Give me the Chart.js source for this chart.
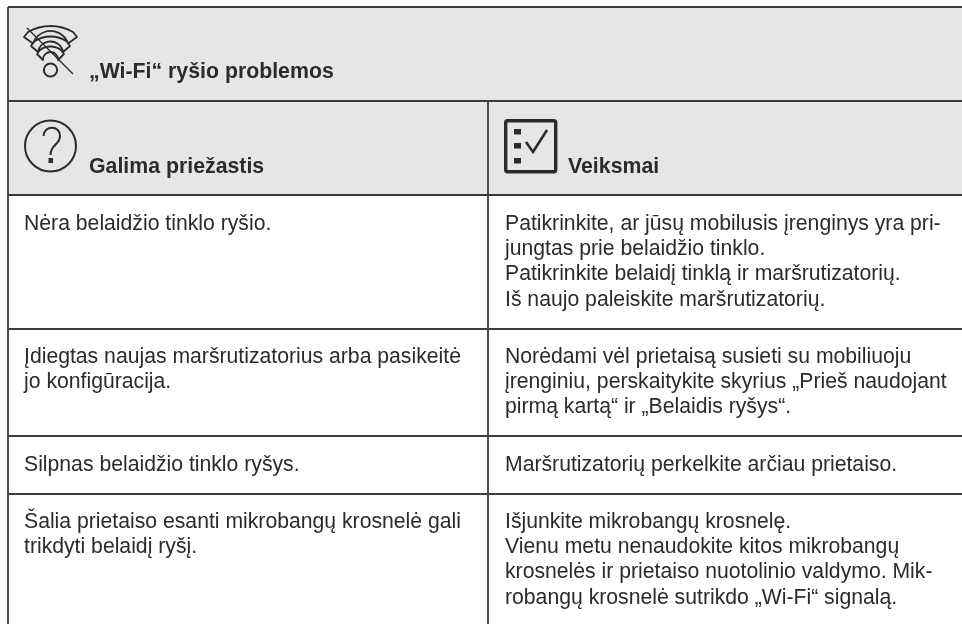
<!DOCTYPE html>
<html>
<head>
<meta charset="utf-8">
<title>Wi-Fi ryšio problemos</title>
<style>
  html, body { margin: 0; padding: 0; background: #fff; }
  #wrap { width: 962px; height: 624px; }
</style>
</head>
<body>
<div id="wrap"><canvas id="tableChart" width="962" height="624"></canvas></div>
<script src="https://cdn.jsdelivr.net/npm/chart.js@4"></script>
<script>
// table rules
const rowEdges = [7, 101, 195, 329, 436, 494];
const columnEdges = [8, 488];
const rightEdge = 962;
const bottomEdge = 624;

const titleText = "„Wi-Fi“ ryšio problemos";
const causeHeader = "Galima priežastis";
const actionHeader = "Veiksmai";

const causeLines = [
  ["Nėra belaidžio tinklo ryšio."],
  ["Įdiegtas naujas maršrutizatorius arba pasikeitė", "jo konfigūracija."],
  ["Silpnas belaidžio tinklo ryšys."],
  ["Šalia prietaiso esanti mikrobangų krosnelė gali", "trikdyti belaidį ryšį."]
];
const actionLines = [
  ["Patikrinkite, ar jūsų mobilusis įrenginys yra pri-", "jungtas prie belaidžio tinklo.", "Patikrinkite belaidį tinklą ir maršrutizatorių.", "Iš naujo paleiskite maršrutizatorių."],
  ["Norėdami vėl prietaisą susieti su mobiliuoju", "įrenginiu, perskaitykite skyrius „Prieš naudojant", "pirmą kartą“ ir „Belaidis ryšys“."],
  ["Maršrutizatorių perkelkite arčiau prietaiso."],
  ["Išjunkite mikrobangų krosnelę.", "Vienu metu nenaudokite kitos mikrobangų", "krosnelės ir prietaiso nuotolinio valdymo. Mik-", "robangų krosnelė sutrikdo „Wi-Fi“ signalą."]
];
// first baseline of every body row
const rowBaselines = [230, 363, 471, 528];
const lineStep = 25.2;

const ruleColor = "#3c3c3c";
const headerFill = "#e5e6e8";
const textColor = "#2b2b2b";

// rules as line datasets. first one is drawn last by chart.js so the band goes at the end
const datasets = [];
rowEdges.forEach(y => {
  datasets.push({
    data: [{x: columnEdges[0], y: y}, {x: rightEdge, y: y}],
    borderColor: ruleColor,
    borderWidth: 1.8
  });
});
datasets.push({
  data: [{x: columnEdges[0], y: rowEdges[0]}, {x: columnEdges[0], y: bottomEdge}],
  borderColor: ruleColor,
  borderWidth: 1.8
});
datasets.push({
  data: [{x: columnEdges[1], y: rowEdges[1]}, {x: columnEdges[1], y: bottomEdge}],
  borderColor: ruleColor,
  borderWidth: 1.8
});
datasets.push({
  data: [{x: columnEdges[0], y: rowEdges[0]}, {x: rightEdge, y: rowEdges[0]}],
  fill: {value: rowEdges[2]},
  backgroundColor: headerFill,
  borderWidth: 0
});

// text and the three icons
const tableText = {
  id: "tableText",
  afterDatasetsDraw(chart) {
    const ctx = chart.ctx;
    const sx = chart.scales.x, sy = chart.scales.y;
    const px = v => sx.getPixelForValue(v);
    const py = v => sy.getPixelForValue(v);

    ctx.save();
    ctx.fillStyle = textColor;
    ctx.textBaseline = "alphabetic";
    ctx.textAlign = "left";

    ctx.font = "bold 21.3px 'Liberation Sans'";
    ctx.fillText(titleText, px(89), py(78));
    ctx.fillText(causeHeader, px(89), py(173));
    ctx.fillText(actionHeader, px(568), py(173));

    ctx.font = "21.2px 'Liberation Sans'";
    rowBaselines.forEach((base, i) => {
      causeLines[i].forEach((t, j) => ctx.fillText(t, px(24), py(base + j * lineStep)));
      actionLines[i].forEach((t, j) => ctx.fillText(t, px(505), py(base + j * lineStep)));
    });

    ctx.strokeStyle = textColor;
    ctx.lineCap = "butt";
    ctx.lineJoin = "round";

    // wifi icon: circle, three bands, slash
    ctx.lineWidth = 2;
    ctx.beginPath(); ctx.arc(px(50.5), py(70), 6.6, 0, Math.PI * 2); ctx.stroke();
    ctx.lineWidth = 1.8;
    const mid = 50.5;
    // circle through both end points and the top of the arch
    const arch = (h, y0, top, ccw) => {
      const s = y0 - top;
      const r = (h * h + s * s) / (2 * s);
      const a = Math.atan2(h, r - s);
      const up = -Math.PI / 2;
      if (ccw) ctx.arc(px(mid), py(top + r), r, up + a, up - a, true);
      else ctx.arc(px(mid), py(top + r), r, up - a, up + a);
    };
    // outer half width/end y/top, tip half width/y, inner half width/end y/top
    [[22.5, 32, 26, 26.5, 37, 17.5, 43.5, 31],
     [16.5, 41.5, 36.5, 19.5, 46, 12.5, 52, 41.5],
     [10.5, 50, 46.5, 13.5, 54, 7.5, 60, 52]].forEach(b => {
      ctx.beginPath();
      arch(b[0], b[1], b[2], false);
      ctx.lineTo(px(mid + b[3]), py(b[4]));
      arch(b[5], b[6], b[7], true);
      ctx.lineTo(px(mid - b[3]), py(b[4]));
      ctx.closePath();
      ctx.stroke();
    });
    ctx.lineWidth = 1.3;
    ctx.beginPath(); ctx.moveTo(px(27), py(28)); ctx.lineTo(px(73), py(74)); ctx.stroke();

    // question mark icon
    ctx.lineWidth = 2;
    ctx.beginPath(); ctx.arc(px(50.5), py(146), 25.5, 0, Math.PI * 2); ctx.stroke();
    ctx.beginPath();
    ctx.moveTo(px(43.5), py(136));
    ctx.bezierCurveTo(px(44), py(125), px(60), py(125), px(60), py(136));
    ctx.bezierCurveTo(px(60), py(145), px(50.5), py(144), px(50.5), py(155));
    ctx.stroke();
    ctx.fillRect(px(48.5), py(158), 4.5, 5);

    // checklist icon
    ctx.lineWidth = 3.4;
    ctx.beginPath(); ctx.roundRect(px(505.7), py(120.7), 50, 51, 2); ctx.stroke();
    ctx.fillRect(px(514), py(129), 7, 5.5);
    ctx.fillRect(px(514), py(143), 7, 5.5);
    ctx.fillRect(px(514), py(158), 7, 5.5);
    ctx.lineWidth = 2.6;
    ctx.lineJoin = "miter";
    ctx.beginPath();
    ctx.moveTo(px(526), py(142)); ctx.lineTo(px(533), py(152)); ctx.lineTo(px(547), py(130));
    ctx.stroke();
    ctx.restore();
  }
};

new Chart(document.getElementById("tableChart"), {
  type: "scatter",
  data: { datasets: datasets.map(d => Object.assign({showLine: true, pointRadius: 0, tension: 0}, d)) },
  options: {
    responsive: false,
    animation: false,
    layout: { padding: 0 },
    plugins: { legend: { display: false }, tooltip: { enabled: false } },
    scales: {
      x: { type: "linear", display: false, min: 0, max: 962 },
      y: { type: "linear", display: false, min: 0, max: 624, reverse: true }
    }
  },
  plugins: [tableText]
});
</script>
</body>
</html>
